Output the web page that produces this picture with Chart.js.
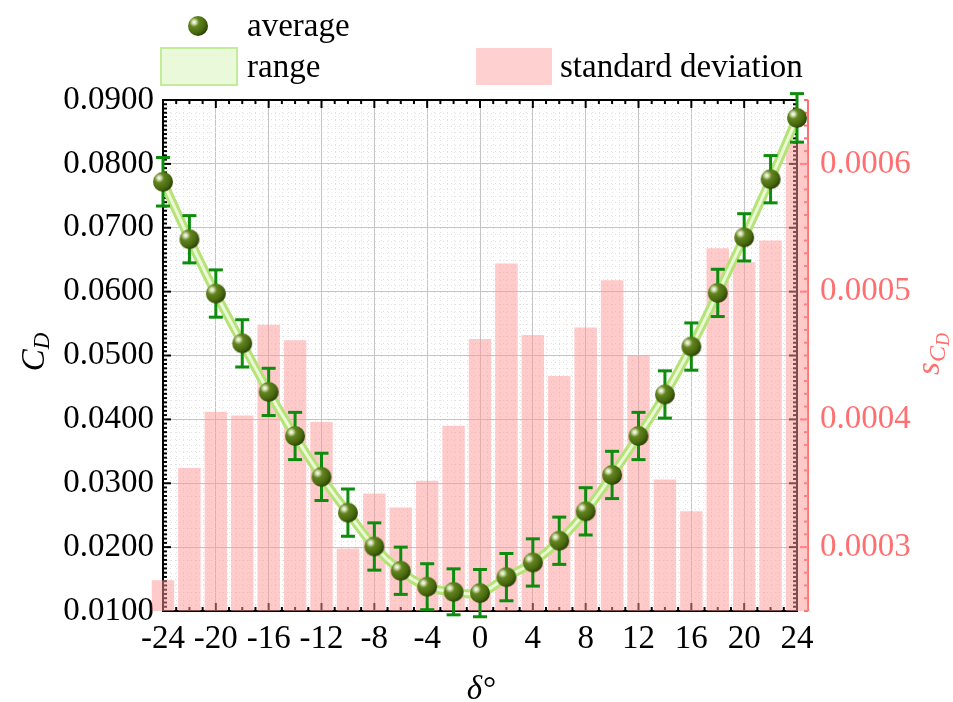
<!DOCTYPE html>
<html>
<head>
<meta charset="utf-8">
<script src="https://cdn.jsdelivr.net/npm/chart.js@4.4.1/dist/chart.umd.min.js"></script>
<style>
  html, body { margin: 0; padding: 0; background: #fff; }
  canvas { display: block; }
</style>
</head>
<body>
<canvas id="grafica" width="953" height="702"></canvas>
<script>
// Datos
const angles = [-24, -22, -20, -18, -16, -14, -12, -10, -8, -6, -4, -2, 0, 2, 4, 6, 8, 10, 12, 14, 16, 18, 20, 22, 24];
const avgCD = [0.0772, 0.0682, 0.0597, 0.0519, 0.0443, 0.0374, 0.0310, 0.0254, 0.0201, 0.0163, 0.0138, 0.0130, 0.0128,
               0.0153, 0.0176, 0.0210, 0.0256, 0.0313, 0.0374, 0.0439, 0.0514, 0.0598, 0.0685, 0.0776, 0.0872];
const errCD = [0.0038, 0.0037, 0.0037, 0.0037, 0.0037, 0.0037, 0.0037, 0.0037, 0.0037, 0.0037, 0.0036, 0.0036, 0.0037,
               0.0037, 0.0037, 0.0037, 0.0037, 0.0037, 0.0037, 0.0037, 0.0037, 0.0037, 0.0037, 0.0037, 0.0038];
const stdCD = [0.000274, 0.000362, 0.000406, 0.000403, 0.000474, 0.000462, 0.000398, 0.000299, 0.000342, 0.000331,
               0.000352, 0.000395, 0.000463, 0.000522, 0.000466, 0.000434, 0.000472, 0.000509, 0.000450, 0.000353,
               0.000328, 0.000534, 0.000523, 0.000540, 0.000616];
const angleTicks = [-24, -20, -16, -12, -8, -4, 0, 4, 8, 12, 16, 20, 24];
const cdTicks = [0.01, 0.02, 0.03, 0.04, 0.05, 0.06, 0.07, 0.08, 0.09];
const sdTicks = [0.0003, 0.0004, 0.0005, 0.0006];

const SERIF = "'Liberation Serif', 'Times New Roman', serif";
const RED = '#ff6f6f';

const pts = arr => arr.map((v, i) => ({ x: angles[i], y: v }));

// Esfera verde para los puntos promedio
const makeSphere = (r) => {
    const c = document.createElement('canvas');
    c.width = c.height = 2 * r + 2;
    const g = c.getContext('2d');
    const cx = r + 1;
    const hx = cx - r * 0.38, hy = cx - r * 0.38;
    const grad = g.createRadialGradient(hx, hy, 0, hx, hy, r * 1.45);
    grad.addColorStop(0, '#ffffff');
    grad.addColorStop(0.13, '#d3dfb4');
    grad.addColorStop(0.33, '#63851f');
    grad.addColorStop(0.75, '#48680f');
    grad.addColorStop(1, '#2c4306');
    g.fillStyle = grad;
    g.beginPath();
    g.arc(cx, cx, r, 0, Math.PI * 2);
    g.fill();
    return c;
};
const sphere = makeSphere(10);

const line = (ctx, x1, y1, x2, y2) => {
    ctx.beginPath();
    ctx.moveTo(x1, y1);
    ctx.lineTo(x2, y2);
    ctx.stroke();
};

// Marco, ticks hacia adentro, rejilla menor y eje rojo
const decor = {
    id: 'decor',
    beforeDatasetsDraw(chart) {
        const { ctx, chartArea: a, scales: { x, y, y2 } } = chart;
        ctx.save();
        ctx.strokeStyle = '#e2e2e2';
        ctx.lineWidth = 1;
        ctx.setLineDash([1, 3]);
        for (let i = 1; i < 96; i++) {
            if (i % 8 === 0) continue;
            const px = Math.round(x.getPixelForValue(-24 + i * 0.5)) + 0.5;
            line(ctx, px, a.top, px, a.bottom);
        }
        for (let i = 1; i < 80; i++) {
            if (i % 10 === 0) continue;
            const py = Math.round(y.getPixelForValue(0.01 + i * 0.001)) + 0.5;
            line(ctx, a.left, py, a.right, py);
        }
        ctx.setLineDash([]);

        ctx.strokeStyle = '#000';
        ctx.lineWidth = 2;
        ctx.strokeRect(a.left, a.top, a.right - a.left, a.bottom - a.top);
        for (let i = 0; i <= 48; i++) {
            const px = x.getPixelForValue(-24 + i);
            const len = i % 4 === 0 ? 8 : 4;
            line(ctx, px, a.bottom, px, a.bottom - len);
            line(ctx, px, a.top, px, a.top + len);
        }
        for (let i = 0; i <= 120; i++) {
            const py = y.getPixelForValue(0.01 + i * 0.01 / 15);
            const len = i % 15 === 0 ? 8 : 4;
            line(ctx, a.left, py, a.left + len, py);
            line(ctx, a.right, py, a.right - len, py);
        }

        // eje derecho (desviación estándar)
        const rx = a.right + 11;
        ctx.strokeStyle = RED;
        line(ctx, rx, a.top, rx, a.bottom);
        for (let i = 0; i <= 40; i++) {
            const py = y2.getPixelForValue(0.00025 + i * 0.00001);
            const len = (i + 5) % 10 === 0 ? 8 : 4;
            line(ctx, rx, py, rx - len, py);
        }
        ctx.restore();
    },
    beforeDatasetDraw(chart, args) {
        if (args.index !== 0) return;
        const { ctx, scales: { x, y } } = chart;
        ctx.save();
        ctx.strokeStyle = '#0e8c0e';
        ctx.lineWidth = 3;
        avgCD.forEach((v, i) => {
            const px = x.getPixelForValue(angles[i]);
            const top = y.getPixelForValue(v + errCD[i]);
            const bot = y.getPixelForValue(v - errCD[i]);
            line(ctx, px, top, px, bot);
            line(ctx, px - 7, top, px + 7, top);
            line(ctx, px - 7, bot, px + 7, bot);
        });
        ctx.restore();
    },
    afterDraw(chart) {
        const { ctx } = chart;
        ctx.save();
        // leyenda
        ctx.font = `33px ${SERIF}`;
        ctx.fillStyle = '#000';
        ctx.textBaseline = 'alphabetic';
        ctx.textAlign = 'left';
        ctx.drawImage(sphere, 198 - sphere.width / 2, 26 - sphere.height / 2);
        ctx.fillText('average', 247, 36);
        ctx.fillStyle = '#e9f9d9';
        ctx.fillRect(161, 48, 76, 37);
        ctx.strokeStyle = '#c3ec98';
        ctx.lineWidth = 2;
        ctx.strokeRect(161, 48, 76, 37);
        ctx.fillStyle = '#000';
        ctx.fillText('range', 247, 77);
        ctx.fillStyle = '#ffd0d0';
        ctx.fillRect(476, 48, 76, 37);
        ctx.fillStyle = '#000';
        ctx.fillText('standard deviation', 560, 77);

        // título eje izquierdo: C_D
        ctx.save();
        ctx.translate(44, 352);
        ctx.rotate(-Math.PI / 2);
        ctx.font = `italic 33px ${SERIF}`;
        const wC = ctx.measureText('C').width;
        ctx.font = `italic 23px ${SERIF}`;
        const wD = ctx.measureText('D').width;
        let sx = -(wC + wD) / 2;
        ctx.font = `italic 33px ${SERIF}`;
        ctx.fillText('C', sx, 0);
        ctx.font = `italic 23px ${SERIF}`;
        ctx.fillText('D', sx + wC, 5);
        ctx.restore();

        // título eje derecho: s_{C_D}
        ctx.save();
        ctx.translate(939, 354);
        ctx.rotate(-Math.PI / 2);
        ctx.fillStyle = RED;
        ctx.font = `italic 33px ${SERIF}`;
        const ws = ctx.measureText('s').width;
        ctx.font = `italic 24px ${SERIF}`;
        const wc2 = ctx.measureText('C').width;
        ctx.font = `italic 18px ${SERIF}`;
        const wd2 = ctx.measureText('D').width;
        sx = -(ws + wc2 + wd2) / 2;
        ctx.font = `italic 33px ${SERIF}`;
        ctx.fillText('s', sx, 0);
        ctx.font = `italic 24px ${SERIF}`;
        ctx.fillText('C', sx + ws, 6);
        ctx.font = `italic 18px ${SERIF}`;
        ctx.fillText('D', sx + ws + wc2, 10);
        ctx.restore();

        // título eje x: δ°
        ctx.font = `italic 33px ${SERIF}`;
        const wdel = ctx.measureText('δ').width;
        ctx.font = `33px ${SERIF}`;
        const wdeg = ctx.measureText('°').width;
        const x0 = 481 - (wdel + wdeg) / 2;
        ctx.fillStyle = '#000';
        ctx.font = `italic 33px ${SERIF}`;
        ctx.fillText('δ', x0, 699);
        ctx.font = `33px ${SERIF}`;
        ctx.fillText('°', x0 + wdel + 1, 699);
        ctx.restore();
    }
};

const ctx = document.getElementById('grafica').getContext('2d');
new Chart(ctx, {
    type: 'bar',
    data: {
        datasets: [
            {
                type: 'line', label: 'average', data: pts(avgCD), yAxisID: 'y',
                showLine: false, pointStyle: sphere, pointRadius: 10, clip: false, order: 1
            },
            {
                type: 'line', label: 'range', data: pts(avgCD), yAxisID: 'y',
                borderColor: '#eaf8d6', borderWidth: 3, pointRadius: 0, tension: 0.4, clip: false, order: 2
            },
            {
                type: 'line', label: 'range', data: pts(avgCD), yAxisID: 'y',
                borderColor: '#b5e378', borderWidth: 9, pointRadius: 0, tension: 0.4, clip: false, order: 3
            },
            {
                type: 'bar', label: 'standard deviation', data: pts(stdCD), yAxisID: 'y2',
                backgroundColor: 'rgba(255, 150, 150, 0.5)', borderWidth: 0,
                barPercentage: 0.85, categoryPercentage: 1,
                clip: { left: false, right: false, top: 0, bottom: 0 }, order: 4
            }
        ]
    },
    options: {
        responsive: false,
        animation: false,
        layout: { padding: { top: 100, left: 0, right: 0, bottom: 0 } },
        plugins: { legend: { display: false }, tooltip: { enabled: false } },
        scales: {
            x: {
                type: 'linear', min: -24, max: 24, offset: false,
                afterBuildTicks: s => { s.ticks = angleTicks.map(v => ({ value: v })); },
                afterFit: s => { s.height = 91; },
                grid: { color: '#c4c4c4', drawTicks: false, offset: false },
                border: { display: false },
                ticks: {
                    font: { family: SERIF, size: 33 }, color: '#000', padding: 9,
                    maxRotation: 0, autoSkip: false, callback: v => String(v)
                }
            },
            y: {
                type: 'linear', position: 'left', min: 0.01, max: 0.09,
                afterBuildTicks: s => { s.ticks = cdTicks.map(v => ({ value: v })); },
                afterFit: s => { s.width = 163; },
                grid: { color: '#c4c4c4', drawTicks: false },
                border: { display: false },
                ticks: {
                    font: { family: SERIF, size: 33 }, color: '#000', padding: 9,
                    callback: v => v.toFixed(4)
                }
            },
            y2: {
                type: 'linear', position: 'right', min: 0.00025, max: 0.00065,
                afterBuildTicks: s => { s.ticks = sdTicks.map(v => ({ value: v })); },
                afterFit: s => { s.width = 156; },
                grid: { display: false, drawTicks: false },
                border: { display: false },
                ticks: {
                    font: { family: SERIF, size: 33 }, color: RED, padding: 23,
                    callback: v => v.toFixed(4)
                }
            }
        }
    },
    plugins: [decor]
});
</script>
</body>
</html>
